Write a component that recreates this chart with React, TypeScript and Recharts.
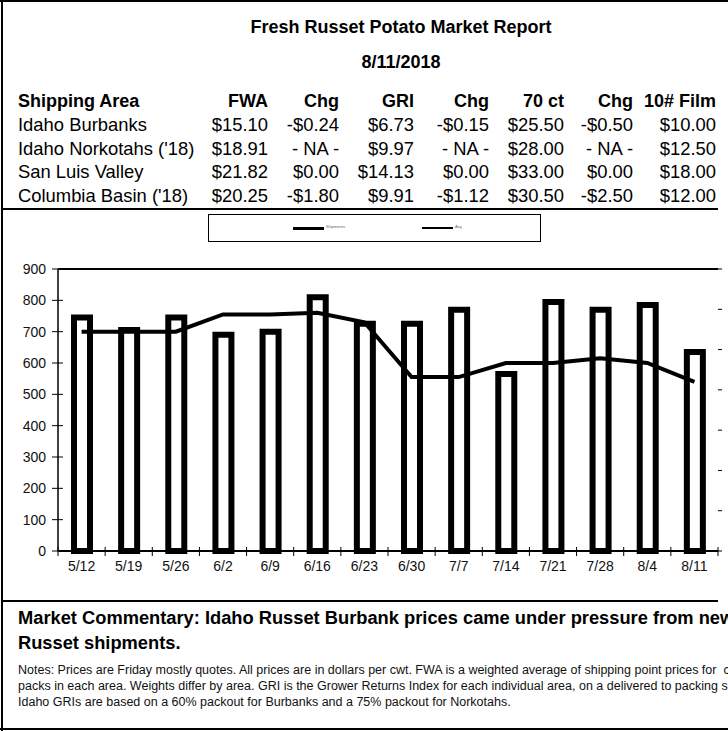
import React from "react";
import {
  ComposedChart,
  Bar,
  Line,
  XAxis,
  YAxis,
  ReferenceLine,
} from "recharts";

const weeks = ["5/12", "5/19", "5/26", "6/2", "6/9", "6/16", "6/23", "6/30", "7/7", "7/14", "7/21", "7/28", "8/4", "8/11"];
const shipments = [745, 705, 745, 690, 700, 810, 725, 725, 770, 565, 795, 770, 785, 635];
const avgLine = [700, 700, 700, 755, 755, 760, 730, 555, 555, 600, 600, 615, 600, 540];
const leftTicks = [0, 100, 200, 300, 400, 500, 600, 700, 800, 900];
const rightTicks = [0, 1, 2, 3, 4, 5, 6, 7];

const tableHead = ["FWA", "Chg", "GRI", "Chg", "70 ct", "Chg", "10# Film"];
const areas = ["Idaho Burbanks", "Idaho Norkotahs ('18)", "San Luis Valley", "Columbia Basin ('18)"];
const tableRows = [
  ["$15.10", "-$0.24", "$6.73", "-$0.15", "$25.50", "-$0.50", "$10.00"],
  ["$18.91", "- NA -", "$9.97", "- NA -", "$28.00", "- NA -", "$12.50"],
  ["$21.82", "$0.00", "$14.13", "$0.00", "$33.00", "$0.00", "$18.00"],
  ["$20.25", "-$1.80", "$9.91", "-$1.12", "$30.50", "-$2.50", "$12.00"],
];

const data = weeks.map((w, i) => ({ week: w, ship: shipments[i], avg: avgLine[i] }));

const FONT = '"Liberation Sans", Arial, Helvetica, sans-serif';
const CHART_W = 780;
const M = { top: 19, right: 22, bottom: 14, left: 0 };
const LEFT_W = 58;
const RIGHT_W = 40;
const PLOT_W = CHART_W - M.left - M.right - LEFT_W - RIGHT_W;
const BAND = PLOT_W / weeks.length;

// column right edges in the table
const colRight = [268, 339, 414, 489, 564, 633, 716];
const rowY = [125, 149, 172, 196];

const XTick = (props: any) => {
  const { x, y, payload, index } = props;
  const axisY = y - 10;
  const left = x - BAND / 2;
  return (
    <g>
      <line x1={left} x2={left} y1={axisY - 4} y2={axisY + 5} stroke="#000" strokeWidth={1} />
      {index === weeks.length - 1 && (
        <line x1={x + BAND / 2} x2={x + BAND / 2} y1={axisY - 4} y2={axisY + 5} stroke="#000" strokeWidth={1} />
      )}
      <text x={x} y={y} dy="0.71em" textAnchor="middle" fontSize={14} fill="#111" fontFamily={FONT}>
        {payload.value}
      </text>
    </g>
  );
};

const YTick = (props: any) => {
  const { x, y, payload } = props;
  const axisX = x + 14;
  return (
    <g>
      <line x1={axisX - 6} x2={axisX + 5} y1={y} y2={y} stroke="#000" strokeWidth={1} />
      <text x={x + 2} y={y} dy="0.36em" textAnchor="end" fontSize={14} fill="#111" fontFamily={FONT}>
        {payload.value}
      </text>
    </g>
  );
};

// right axis only shows short tick marks, its labels fall outside the frame
const RTick = (props: any) => {
  const { x, y } = props;
  return <line x1={x} x2={x + 4} y1={y} y2={y} stroke="#000" strokeWidth={1} />;
};

const hLine = (top: number, left: number, width: number, h = 2) => (
  <div style={{ position: "absolute", top, left, width, height: h, background: "#000" }} />
);

export default function App() {
  return (
    <div
      style={{
        position: "fixed",
        top: 0,
        left: 0,
        width: 728,
        height: 731,
        overflow: "hidden",
        background: "#fff",
        fontFamily: FONT,
        color: "#000",
      }}
    >
      {/* frame */}
      {hLine(0, 0, 728, 2)}
      <div style={{ position: "absolute", top: 0, left: 1, width: 2, height: 731, background: "#000" }} />
      {hLine(208, 2, 716, 2)}
      {hLine(600, 2, 716, 2)}
      {hLine(728, 0, 728, 2)}

      <div style={{ position: "absolute", top: 16, left: 0, width: 802, textAlign: "center", fontWeight: 700, fontSize: 18, lineHeight: "22px" }}>
        Fresh Russet Potato Market Report
      </div>
      <div style={{ position: "absolute", top: 51, left: 0, width: 802, textAlign: "center", fontWeight: 700, fontSize: 18, lineHeight: "22px" }}>
        8/11/2018
      </div>

      {/* table */}
      <div style={{ position: "absolute", top: 90, left: 18, fontWeight: 700, fontSize: 18, lineHeight: "22px" }}>
        Shipping Area
      </div>
      {tableHead.map((h, i) => (
        <div
          key={"h" + i}
          style={{ position: "absolute", top: 90, left: colRight[i] - 120, width: 120, textAlign: "right", fontWeight: 700, fontSize: 18, lineHeight: "22px", whiteSpace: "nowrap" }}
        >
          {h}
        </div>
      ))}
      {areas.map((a, r) => (
        <React.Fragment key={a}>
          <div style={{ position: "absolute", top: rowY[r] - 11, left: 18, fontSize: 18.4, lineHeight: "22px", whiteSpace: "nowrap" }}>{a}</div>
          {tableRows[r].map((v, i) => (
            <div
              key={i}
              style={{ position: "absolute", top: rowY[r] - 11, left: colRight[i] - 100, width: 100, textAlign: "right", fontSize: 18.4, lineHeight: "22px", whiteSpace: "nowrap" }}
            >
              {v}
            </div>
          ))}
        </React.Fragment>
      ))}

      {/* legend */}
      <div style={{ position: "absolute", top: 214, left: 208, width: 333, height: 28, border: "1px solid #000", boxSizing: "border-box" }}>
        <div style={{ position: "absolute", top: 12, left: 84, width: 31, height: 3, background: "#000" }} />
        <div style={{ position: "absolute", top: 9, left: 117, fontSize: 4, color: "#666", lineHeight: "6px", whiteSpace: "nowrap" }}>Shipments</div>
        <div style={{ position: "absolute", top: 12, left: 213, width: 31, height: 2, background: "#000" }} />
        <div style={{ position: "absolute", top: 9, left: 246, fontSize: 4, color: "#666", lineHeight: "6px", whiteSpace: "nowrap" }}>Avg</div>
      </div>

      {/* chart */}
      <div style={{ position: "absolute", top: 250, left: 0 }}>
        <ComposedChart width={CHART_W} height={345} data={data} margin={M}>
          <XAxis
            dataKey="week"
            xAxisId="cat"
            height={30}
            axisLine={{ stroke: "#000", strokeWidth: 2 }}
            tickLine={false}
            tickSize={6}
            tickMargin={4}
            interval={0}
            tick={<XTick />}
          />
          <YAxis
            yAxisId="left"
            width={LEFT_W}
            domain={[0, 900]}
            ticks={leftTicks}
            interval={0}
            axisLine={{ stroke: "#000", strokeWidth: 1.5 }}
            tickLine={false}
            tickSize={6}
            tickMargin={8}
            tick={<YTick />}
          />
          <YAxis
            yAxisId="right"
            orientation="right"
            width={RIGHT_W}
            domain={[0, 7]}
            ticks={rightTicks}
            allowDataOverflow
            interval={0}
            axisLine={false}
            tickLine={false}
            tickSize={0}
            tickMargin={0}
            tick={<RTick />}
          />
          <ReferenceLine yAxisId="left" xAxisId="cat" y={900} stroke="#000" strokeWidth={2} ifOverflow="visible" />
          <Bar
            dataKey="ship"
            xAxisId="cat"
            yAxisId="left"
            barSize={16}
            fill="#fff"
            stroke="#000"
            strokeWidth={6}
            isAnimationActive={false}
          />
          <Line
            dataKey="avg"
            xAxisId="cat"
            yAxisId="left"
            type="linear"
            stroke="#000"
            strokeWidth={4}
            dot={false}
            activeDot={false}
            isAnimationActive={false}
          />
        </ComposedChart>
      </div>

      {/* commentary */}
      <div style={{ position: "absolute", top: 605, left: 18, fontWeight: 700, fontSize: 18.3, lineHeight: "25px", whiteSpace: "nowrap" }}>
        <div>Market Commentary: Idaho Russet Burbank prices came under pressure from new crop</div>
        <div>Russet shipments.</div>
      </div>
      <div style={{ position: "absolute", top: 662, left: 18, fontSize: 12.5, lineHeight: "16px", whiteSpace: "nowrap", color: "#111" }}>
        <div>Notes: Prices are Friday mostly quotes. All prices are in dollars per cwt. FWA is a weighted average of shipping point prices for&nbsp; carton and film</div>
        <div>packs in each area. Weights differ by area. GRI is the Grower Returns Index for each individual area, on a delivered to packing shed basis.</div>
        <div>Idaho GRIs are based on a 60% packout for Burbanks and a 75% packout for Norkotahs.</div>
      </div>
    </div>
  );
}
